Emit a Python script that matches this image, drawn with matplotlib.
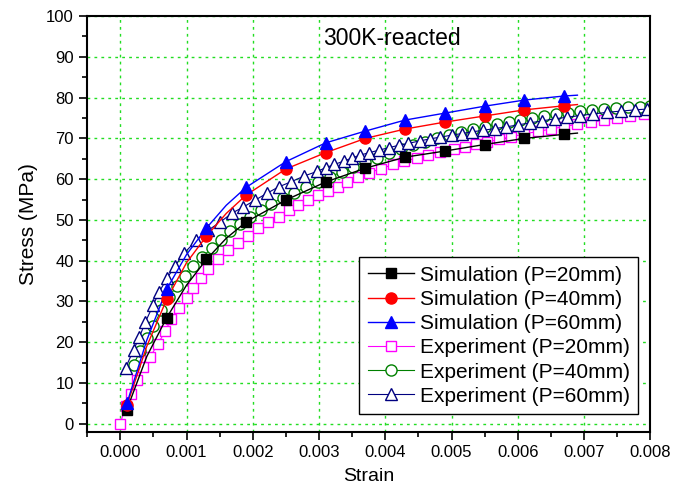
import matplotlib
matplotlib.use("Agg")
import matplotlib.pyplot as plt
from matplotlib.ticker import MultipleLocator

plt.rcParams['font.family'] = ['Liberation Sans', 'DejaVu Sans']

# simulation markers (strain, stress in MPa)
sim_strain = [0.0001, 0.0007, 0.0013, 0.0019, 0.0025, 0.0031, 0.0037, 0.0043, 0.0049, 0.0055, 0.0061, 0.0067]
sim_20 = [3.5, 26.0, 40.3, 49.5, 54.9, 59.3, 62.7, 65.4, 66.9, 68.5, 70.0, 71.0]
sim_40 = [4.5, 30.5, 46.0, 56.1, 62.5, 66.5, 70.0, 72.3, 74.0, 75.5, 77.0, 78.0]
sim_60 = [5.0, 33.0, 48.0, 58.0, 64.3, 68.9, 71.8, 74.5, 76.2, 77.9, 79.4, 80.4]

# simulation curves
line_strain = [0.0001, 0.0004, 0.0007, 0.001, 0.0013, 0.0016, 0.0019, 0.0025, 0.0031, 0.0037,
               0.0043, 0.0049, 0.0055, 0.0061, 0.0067, 0.0069]
line_20 = [3.5, 16.5, 26.0, 34.0, 40.3, 45.5, 49.5, 54.9, 59.3, 62.7, 65.4, 66.9, 68.5, 70.0, 71.0, 71.3]
line_40 = [4.5, 19.0, 30.5, 39.5, 46.0, 51.6, 56.1, 62.5, 66.5, 70.0, 72.3, 74.0, 75.5, 77.0, 78.0, 78.3]
line_60 = [5.0, 20.5, 33.0, 41.5, 48.0, 53.6, 58.0, 64.3, 68.9, 71.8, 74.5, 76.2, 77.9, 79.4, 80.4, 80.6]

# experiment P=20mm
exp20_strain = [0.0, 0.00008, 0.00016, 0.00025, 0.00035, 0.00045, 0.00057, 0.00068, 0.00077, 0.00088,
                0.0010, 0.0011, 0.00122, 0.00133, 0.00148, 0.00163, 0.00178, 0.00193, 0.00208, 0.00223,
                0.00239, 0.00254, 0.00269, 0.00284, 0.00299, 0.00314, 0.00328, 0.00342, 0.00359, 0.00376,
                0.00394, 0.00412, 0.00429, 0.00448, 0.00465, 0.00483, 0.00503, 0.0052, 0.00537, 0.00554,
                0.00572, 0.0059, 0.0061, 0.0063, 0.0065, 0.0067, 0.0069, 0.0071, 0.0073, 0.0075,
                0.0077, 0.0079]
exp20_stress = [0.0, 4.4, 7.4, 10.8, 14.0, 16.4, 19.6, 22.8, 25.7, 28.4,
                30.9, 33.4, 35.8, 38.0, 40.5, 42.6, 44.3, 46.1, 48.0, 49.5,
                50.8, 52.4, 53.7, 54.9, 56.0, 57.0, 58.0, 59.2, 60.5, 61.6,
                62.6, 63.6, 64.4, 65.2, 65.9, 66.7, 67.4, 67.9, 68.6, 69.1,
                69.8, 70.4, 71.1, 71.7, 72.3, 72.9, 73.5, 74.0, 74.5, 75.0,
                75.5, 76.0]

# experiment P=40mm
exp40_strain = [0.0002, 0.0003, 0.0004, 0.0005, 0.00062, 0.00073, 0.00086, 0.00098, 0.0011, 0.00124,
                0.00138, 0.00152, 0.00166, 0.0018, 0.00196, 0.00212, 0.00228, 0.00245, 0.00262, 0.0028,
                0.00298, 0.00316, 0.00334, 0.00352, 0.0037, 0.00388, 0.00406, 0.00424, 0.00442, 0.0046,
                0.00478, 0.00496, 0.00514, 0.00532, 0.0055, 0.00568, 0.00586, 0.00604, 0.00622, 0.0064,
                0.00658, 0.00676, 0.00694, 0.00712, 0.0073, 0.00748, 0.00766, 0.00784, 0.0080]
exp40_stress = [14.5, 17.8, 21.0, 24.0, 27.8, 31.1, 33.9, 36.3, 38.6, 40.9,
                43.1, 45.2, 47.2, 49.0, 50.8, 52.5, 54.0, 55.4, 56.7, 58.0,
                59.2, 60.5, 61.8, 63.0, 64.2, 65.3, 66.4, 67.4, 68.3, 69.2,
                70.0, 70.8, 71.5, 72.2, 72.9, 73.5, 74.1, 74.6, 75.1, 75.5,
                75.9, 76.3, 76.6, 76.9, 77.2, 77.4, 77.6, 77.8, 78.0]

# experiment P=60mm
exp60_strain = [0.00008, 0.0002, 0.00029, 0.00038, 0.0005, 0.00059, 0.00071, 0.00083, 0.00096, 0.00115,
                0.00133, 0.00151, 0.00169, 0.00186, 0.00204, 0.00222, 0.00239, 0.00257, 0.00278, 0.00297,
                0.0031, 0.00323, 0.00337, 0.0035, 0.00362, 0.00376, 0.0039, 0.00405, 0.0042, 0.00435,
                0.00453, 0.00468, 0.00483, 0.005, 0.00516, 0.00531, 0.00548, 0.00565, 0.00582, 0.006,
                0.00618, 0.00637, 0.00656, 0.00675, 0.00694, 0.00714, 0.00735, 0.00756, 0.00777, 0.00795]
exp60_stress = [13.7, 18.1, 21.3, 25.0, 29.2, 32.4, 35.8, 38.8, 41.8, 45.0,
                47.5, 49.5, 51.7, 53.2, 54.9, 56.6, 58.1, 59.3, 60.8, 61.9,
                62.8, 63.6, 64.4, 65.2, 65.9, 66.5, 67.1, 67.7, 68.3, 68.8,
                69.4, 69.9, 70.3, 70.8, 71.2, 71.6, 72.0, 72.4, 72.8, 73.3,
                73.8, 74.3, 74.8, 75.2, 75.6, 76.0, 76.4, 76.7, 77.0, 77.2]

fig = plt.figure(figsize=(6.97, 4.87), dpi=100)
ax = fig.add_axes([0.125, 0.113, 0.808, 0.854])

# experiments first, simulations on top
ax.plot(exp20_strain, exp20_stress, '-', color='#ff00ff', lw=0.8, marker='s', ms=7,
        mfc='white', mec='#ff00ff', mew=1.0, label='Experiment (P=20mm)')
ax.plot(exp40_strain, exp40_stress, '-', color='#008000', lw=0.8, marker='o', ms=8,
        mfc='white', mec='#008000', mew=1.0, label='Experiment (P=40mm)')
ax.plot(exp60_strain, exp60_stress, '-', color='#000080', lw=0.8, marker='^', ms=9,
        mfc='white', mec='#000080', mew=1.0, label='Experiment (P=60mm)')

ax.plot(line_strain, line_20, '-', color='black', lw=1.0)
ax.plot(line_strain, line_40, '-', color='red', lw=1.0)
ax.plot(line_strain, line_60, '-', color='blue', lw=1.0)
ax.plot(sim_strain, sim_20, 's', color='black', ms=7)
ax.plot(sim_strain, sim_40, 'o', color='red', ms=8)
ax.plot(sim_strain, sim_60, '^', color='blue', ms=9)

# legend handles (line + marker)
h1, = ax.plot([], [], '-', color='black', lw=1.0, marker='s', ms=7, label='Simulation (P=20mm)')
h2, = ax.plot([], [], '-', color='red', lw=1.0, marker='o', ms=8, label='Simulation (P=40mm)')
h3, = ax.plot([], [], '-', color='blue', lw=1.0, marker='^', ms=9, label='Simulation (P=60mm)')
handles = [h1, h2, h3] + ax.get_lines()[:3]

ax.set_xlim(-0.0005, 0.008)
ax.set_ylim(-2, 100)
ax.xaxis.set_major_locator(MultipleLocator(0.001))
ax.xaxis.set_minor_locator(MultipleLocator(0.0005))
ax.yaxis.set_major_locator(MultipleLocator(10))
ax.yaxis.set_minor_locator(MultipleLocator(5))
ax.xaxis.set_major_formatter(matplotlib.ticker.FormatStrFormatter('%.3f'))

ax.tick_params(which='both', direction='out', top=False, right=False, labelsize=12, width=1.2)
ax.tick_params(which='major', length=6)
ax.tick_params(which='minor', length=3.5)
for s in ax.spines.values():
    s.set_linewidth(1.5)

ax.grid(True, which='major', color='#22dd22', linestyle=(0, (2, 3)), linewidth=1.0)
ax.set_axisbelow(True)

ax.set_xlabel('Strain', fontsize=14, labelpad=6)
ax.set_ylabel('Stress (MPa)', fontsize=15, labelpad=6)
ax.text(0.0041, 94.5, '300K-reacted', fontsize=16.5, ha='center', va='center')

leg = ax.legend(handles=handles, loc='lower right', bbox_to_anchor=(0.997, 0.018), fontsize=15,
                frameon=True, fancybox=False, edgecolor='black', framealpha=1,
                handlelength=2.2, labelspacing=0.25, borderpad=0.4, handletextpad=0.3)
leg.get_frame().set_linewidth(1.0)

fig.savefig('out.png', dpi=100)
